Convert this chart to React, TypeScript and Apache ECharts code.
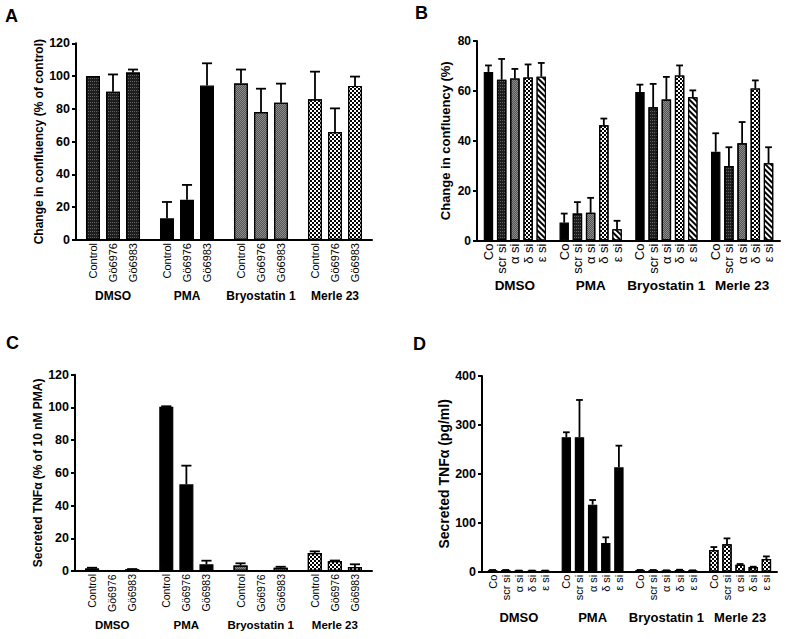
import React, { useEffect, useRef } from "react";
import * as echarts from "echarts";

const groups = ["DMSO", "PMA", "Bryostatin 1", "Merle 23"];
const drugLabels = ["Control", "Gö6976", "Gö6983"];
const siLabels = ["Co", "scr si", "α si", "δ si", "ε si"];

// Panel A: change in confluency (% of control) [group][drug]
const aMeans = [
  [100, 90.5, 102.2],
  [13.2, 24.6, 94.2],
  [95.5, 78.1, 83.8],
  [85.8, 65.9, 94.0],
];
const aErrs = [
  [0, 10.5, 1.8],
  [10.0, 9.0, 13.6],
  [8.5, 14.2, 11.6],
  [16.9, 14.4, 5.7],
];

// Panel B: change in confluency (%) [group][siRNA]
const bMeans = [
  [67.6, 64.5, 65.0, 65.4, 65.7],
  [7.2, 10.8, 11.1, 46.2, 4.5],
  [59.5, 53.4, 56.5, 66.2, 57.4],
  [35.6, 29.9, 39.0, 61.0, 31.0],
];
const bErrs = [
  [2.6, 8.3, 3.8, 5.2, 5.5],
  [3.6, 4.6, 6.0, 2.7, 3.4],
  [3.0, 9.4, 9.1, 4.0, 2.8],
  [7.4, 7.5, 8.5, 3.2, 6.4],
];

// Panel C: secreted TNFα (% of 10 nM PMA) [group][drug]
const cMeans = [
  [1.6, 0.1, 1.0],
  [100.4, 53.0, 4.1],
  [3.3, 0.3, 2.0],
  [11.0, 6.1, 2.4],
];
const cErrs = [
  [0.4, 0, 0.2],
  [0.3, 11.4, 2.2],
  [1.4, 0, 0.6],
  [1.0, 0.3, 1.7],
];

// Panel D: secreted TNFα (pg/ml) [group][siRNA]
const dMeans = [
  [3, 3, 2, 2, 2],
  [275, 275, 137, 58.6, 213.3],
  [3, 3, 2.5, 3.5, 2.5],
  [44.3, 55.9, 14.3, 9.5, 25.9],
];
const dErrs = [
  [0.5, 0.5, 0.3, 0.3, 0.3],
  [10, 76, 9.5, 11.6, 44.3],
  [0.5, 0.5, 0.3, 0.5, 0.3],
  [6.1, 12.2, 1.4, 0.7, 5.4],
];

const FONT = "'Liberation Sans', Arial, Helvetica, sans-serif";

const FILLS: Record<string, any> = {
  black: { color: "#000" },
  dots: {
    color: "#1e1e1e",
    decal: {
      symbol: "rect",
      symbolSize: 1,
      color: "rgba(255,255,255,0.3)",
      dashArrayX: [1, 1],
      dashArrayY: [1, 2],
    },
  },
  gray: {
    color: "#8c8c8c",
    decal: {
      symbol: "rect",
      symbolSize: 1,
      color: "rgba(0,0,0,0.4)",
      dashArrayX: [[1, 1], [0, 1, 1, 0]],
      dashArrayY: [1, 0],
    },
  },
  checker: {
    color: "#fff",
    decal: {
      symbol: "rect",
      symbolSize: 1,
      color: "#000",
      dashArrayX: [[2, 2], [0, 2, 2, 0]],
      dashArrayY: [2, 0],
    },
  },
  stripes: {
    color: "#000",
    decal: {
      symbol: "rect",
      symbolSize: 1,
      color: "#fff",
      dashArrayX: [1, 0],
      dashArrayY: [1.6, 1.6],
      rotation: Math.PI / 4,
    },
  },
};

type Panel = {
  idx: number;
  grid: { left: number; top: number; width: number; height: number };
  max: number;
  interval: number;
  name: string;
  nameSize: number;
  nameGap: number;
  groupMargin: number;
  groupSize: number;
  tickSize: number;
  barLabels: string[];
  barLabelSize: number;
  means: number[][];
  errs: number[][];
  fillFor: (gi: number, si: number) => string;
  catGap: number;
  barGap: number;
};

const panels: Panel[] = [
  {
    idx: 0,
    grid: { left: 76, top: 43.3, width: 296, height: 196.7 },
    max: 120,
    interval: 20,
    name: "Change in confluency (% of control)",
    nameSize: 12,
    nameGap: 31,
    groupMargin: 50,
    groupSize: 12,
    tickSize: 12.5,
    barLabels: drugLabels,
    barLabelSize: 11,
    means: aMeans,
    errs: aErrs,
    fillFor: (gi) => ["dots", "black", "gray", "checker"][gi],
    catGap: 0.27,
    barGap: 0.43,
  },
  {
    idx: 1,
    grid: { left: 477, top: 41, width: 303, height: 199.5 },
    max: 80,
    interval: 20,
    name: "Change in confluency (%)",
    nameSize: 13,
    nameGap: 25,
    groupMargin: 38,
    groupSize: 13.5,
    tickSize: 12,
    barLabels: siLabels,
    barLabelSize: 13,
    means: bMeans,
    errs: bErrs,
    fillFor: (_gi, si) => ["black", "dots", "gray", "checker", "stripes"][si],
    catGap: 0.178,
    barGap: 0.4,
  },
  {
    idx: 2,
    grid: { left: 75, top: 374.7, width: 297, height: 196.3 },
    max: 120,
    interval: 20,
    name: "Secreted TNFα (% of 10 nM PMA)",
    nameSize: 12,
    nameGap: 28,
    groupMargin: 48,
    groupSize: 11.5,
    tickSize: 12.5,
    barLabels: drugLabels,
    barLabelSize: 10.5,
    means: cMeans,
    errs: cErrs,
    fillFor: (gi) => ["dots", "black", "gray", "checker"][gi],
    catGap: 0.27,
    barGap: 0.43,
  },
  {
    idx: 3,
    grid: { left: 482, top: 376, width: 295, height: 195.7 },
    max: 400,
    interval: 100,
    name: "Secreted TNFα (pg/ml)",
    nameSize: 14,
    nameGap: 30,
    groupMargin: 39,
    groupSize: 13,
    tickSize: 12.5,
    barLabels: siLabels,
    barLabelSize: 11,
    means: dMeans,
    errs: dErrs,
    fillFor: (gi) => ["dots", "black", "dots", "checker"][gi],
    catGap: 0.16,
    barGap: 0.4,
  },
];

const panelLetters = [
  { text: "A", left: 5, top: 7 },
  { text: "B", left: 415, top: 4 },
  { text: "C", left: 6, top: 334 },
  { text: "D", left: 413, top: 335 },
];

function buildOption() {
  const grid: any[] = [];
  const xAxis: any[] = [];
  const yAxis: any[] = [];
  const series: any[] = [];

  panels.forEach((p) => {
    grid.push({ ...p.grid, containLabel: false });
    xAxis.push({
      type: "category",
      gridIndex: p.idx,
      data: groups,
      boundaryGap: true,
      axisLine: { show: true, lineStyle: { color: "#000", width: 2 } },
      axisTick: { show: false },
      axisLabel: {
        margin: p.groupMargin,
        color: "#000",
        fontWeight: "bold",
        fontSize: p.groupSize,
        fontFamily: FONT,
        interval: 0,
      },
      splitLine: { show: false },
    });
    yAxis.push({
      type: "value",
      gridIndex: p.idx,
      min: 0,
      max: p.max,
      interval: p.interval,
      axisLine: { show: true, lineStyle: { color: "#000", width: 2 } },
      axisTick: { show: true, length: 4, lineStyle: { color: "#000", width: 2 } },
      axisLabel: {
        margin: 6,
        color: "#000",
        fontWeight: "bold",
        fontSize: p.tickSize,
        fontFamily: FONT,
      },
      splitLine: { show: false },
      name: p.name,
      nameLocation: "middle",
      nameGap: p.nameGap,
      nameTextStyle: {
        color: "#000",
        fontWeight: "bold",
        fontSize: p.nameSize,
        fontFamily: FONT,
      },
    });

    const n = p.barLabels.length;
    p.barLabels.forEach((lbl, si) => {
      series.push({
        type: "bar",
        name: lbl,
        xAxisIndex: p.idx,
        yAxisIndex: p.idx,
        barGap: `${p.barGap * 100}%`,
        barCategoryGap: `${p.catGap * 100}%`,
        data: groups.map((_g, gi) => {
          const f = FILLS[p.fillFor(gi, si)];
          return {
            value: p.means[gi][si],
            itemStyle: {
              color: f.color,
              decal: f.decal,
              borderColor: "#000",
              borderWidth: 1.2,
            },
          };
        }),
        label: {
          show: true,
          position: "bottom",
          distance: 3,
          rotate: 90,
          align: "right",
          verticalAlign: "middle",
          formatter: lbl,
          color: "#000",
          fontSize: p.barLabelSize,
          fontFamily: FONT,
        },
        emphasis: { disabled: true },
        silent: true,
      });
    });

    const errData: number[][] = [];
    groups.forEach((_g, gi) => {
      p.barLabels.forEach((_l, si) => {
        errData.push([gi, si, p.means[gi][si], p.errs[gi][si]]);
      });
    });

    series.push({
      type: "custom",
      xAxisIndex: p.idx,
      yAxisIndex: p.idx,
      z: 5,
      silent: true,
      encode: { x: 0, y: 2 },
      data: errData,
      renderItem: (_params: any, api: any) => {
        const gi = api.value(0);
        const si = api.value(1);
        const v = api.value(2);
        const e = api.value(3);
        if (!e) return { type: "group", children: [] };
        const band = api.size([1, 0])[0];
        const bw = (band * (1 - p.catGap)) / (n + (n - 1) * p.barGap);
        const cx =
          api.coord([gi, 0])[0] + (si - (n - 1) / 2) * bw * (1 + p.barGap);
        const yTop = api.coord([gi, v])[1];
        const yCap = api.coord([gi, v + e])[1];
        const hw = bw * 0.36;
        const st = { stroke: "#000", lineWidth: 1.8 };
        return {
          type: "group",
          children: [
            { type: "line", shape: { x1: cx, y1: yTop, x2: cx, y2: yCap }, style: st },
            { type: "line", shape: { x1: cx - hw, y1: yCap, x2: cx + hw, y2: yCap }, style: st },
          ],
        };
      },
    });
  });

  return {
    animation: false,
    backgroundColor: "#fff",
    title: panelLetters.map((l) => ({
      text: l.text,
      left: l.left,
      top: l.top,
      padding: 0,
      textStyle: { fontSize: 18, fontWeight: "bold", color: "#000", fontFamily: FONT },
    })),
    grid,
    xAxis,
    yAxis,
    series,
  };
}

export default function App() {
  const ref = useRef<HTMLDivElement>(null);
  useEffect(() => {
    if (!ref.current) return;
    const chart = echarts.init(ref.current, undefined, { renderer: "svg" });
    chart.setOption(buildOption() as any);
    return () => chart.dispose();
  }, []);
  return (
    <div
      ref={ref}
      style={{ position: "absolute", left: 0, top: 0, width: 795, height: 639, background: "#fff" }}
    />
  );
}
